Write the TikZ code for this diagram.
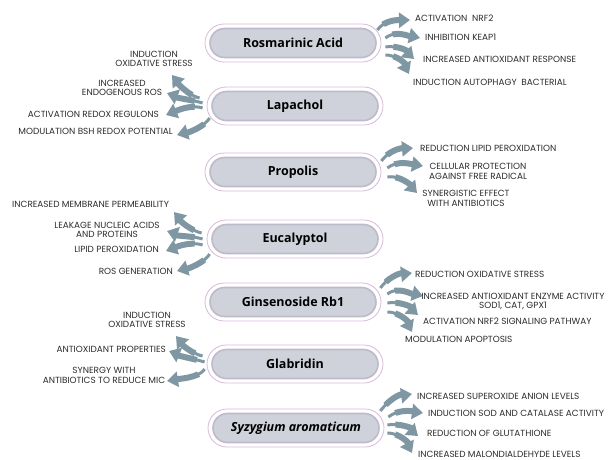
\documentclass[tikz,border=0pt]{standalone}
\usepackage{fontspec}
\setmainfont{Poppins}
\newfontfamily\ttlfont{Open Sans}
\newfontfamily\labfont{Poppins}
\usetikzlibrary{arrows.meta,shapes.misc,bending}
\definecolor{arrowc}{HTML}{7F97A2}
\definecolor{txtc}{HTML}{2B2B2B}
\definecolor{pillb}{HTML}{D8B9D9}
\definecolor{pillf}{HTML}{CFD2DA}
\definecolor{pillr}{HTML}{BDBACB}
\tikzset{
  pillout/.style={rounded rectangle, fill=white, draw=pillb, line width=0.8pt, minimum width=176pt, minimum height=38pt, inner sep=0pt},
  pillin/.style={rounded rectangle, fill=pillf, draw=pillr, line width=1.6pt, minimum width=166pt, minimum height=29pt, inner sep=0pt, font=\ttlfont\bfseries\fontsize{12.5}{14}\selectfont, text=black},
  arr/.style={draw=arrowc, line width=3pt, -{Triangle[width=15pt,length=11pt]},
    preaction={draw=arrowc, line width=6pt, shorten >=9pt, dash pattern={on 0pt off 8pt on 300pt}, -}},
  lab/.style={font=\labfont\fontsize{8.9}{9.5}\selectfont, text=txtc, inner sep=0pt},
  labc/.style={lab, align=center},
}
\begin{document}
\begin{tikzpicture}[x=1pt,y=-1pt]
\useasboundingbox (0,0) rectangle (609,459);

% ---------- Rosmarinic Acid
\node[pillout] (ra) at (293,43) {};
\node[pillin] (rat) at (ra) {Rosmarinic Acid};
\coordinate (ra1) at (410,20);
\coordinate (ra2) at (420,38);
\coordinate (ra3) at (414,59);
\coordinate (ra4) at (409,74);
\draw[arr] ([shift={(-4,-13)}]ra.east) .. controls +(7,-10) and +(-13,0) .. (ra1);
\draw[arr] ([shift={(4,-5)}]ra.east) .. controls +(10,-8) and +(-12,-2) .. (ra2);
\draw[arr] ([shift={(4,4)}]ra.east) .. controls +(12,-2) and +(-6,-8) .. (ra3);
\draw[arr] ([shift={(4,12)}]ra.east) .. controls +(12,0) and +(-3,-10) .. (ra4);
\node[lab, anchor=west] (rat1) at (415,18) {ACTIVATION\ \ NRF2};
\node[lab, anchor=west] (rat2) at (425,37) {INHIBITION KEAP1};
\node[lab, anchor=west] (rat3) at (423,59) {INCREASED ANTIOXIDANT RESPONSE};
\node[lab, anchor=west] (rat4) at (413,82) {INDUCTION AUTOPHAGY\ \ BACTERIAL};

% ---------- Lapachol
\node[pillout] (la) at (295,106) {};
\node[pillin] (lat) at (la) {Lapachol};
\coordinate (la1) at (172,75);
\coordinate (la2) at (167,93);
\coordinate (la3) at (166,115);
\coordinate (la4) at (177,135);
\draw[arr] ([shift={(-7,-8)}]la.west) .. controls +(-10,-2) and +(6,9) .. (la1);
\draw[arr] ([shift={(-4,-3)}]la.west) .. controls +(-10,-3) and +(10,5) .. (la2);
\draw[arr] ([shift={(-4,2)}]la.west) .. controls +(-12,-4) and +(10,-4) .. (la3);
\draw[arr] ([shift={(3,12)}]la.west) .. controls +(-5,9) and +(10,-2) .. (la4);
\node[labc] (lat1) at (154,59) {INDUCTION\\OXIDATIVE STRESS};
\node[labc] (lat2) at (122,88) {INCREASED\\ENDOGENOUS ROS};
\node[lab, anchor=east] (lat3) at (159,114) {ACTIVATION REDOX REGULONS};
\node[lab, anchor=east] (lat4) at (173,131) {MODULATION BSH REDOX POTENTIAL};

% ---------- Propolis
\node[pillout] (pr) at (293,172) {};
\node[pillin] (prt) at (pr) {Propolis};
\coordinate (pr1) at (413,148);
\coordinate (pr2) at (423,166);
\coordinate (pr3) at (417,193);
\draw[arr] ([shift={(0,-11)}]pr.east) .. controls +(7,-10) and +(-13,0) .. (pr1);
\draw[arr] ([shift={(6,-4)}]pr.east) .. controls +(10,-8) and +(-12,-2) .. (pr2);
\draw[arr] ([shift={(6,5)}]pr.east) .. controls +(12,-2) and +(-6,-8) .. (pr3);
\node[lab, anchor=west] (prt1) at (420,148) {REDUCTION LIPID PEROXIDATION};
\node[labc] (prt2) at (478,171.5) {CELLULAR PROTECTION\\AGAINST FREE RADICAL};
\node[labc] (prt3) at (466,198.5) {SYNERGISTIC EFFECT\\WITH ANTIBIOTICS};

% ---------- Eucalyptol
\node[pillout] (eu) at (295,239) {};
\node[pillin] (eut) at (eu) {Eucalyptol};
\coordinate (eu1) at (174,212);
\coordinate (eu2) at (167,231);
\coordinate (eu3) at (166,251);
\coordinate (eu4) at (177,271);
\draw[arr] ([shift={(-5,-6)}]eu.west) .. controls +(-10,-2) and +(6,9) .. (eu1);
\draw[arr] ([shift={(-4,0)}]eu.west) .. controls +(-10,-3) and +(10,5) .. (eu2);
\draw[arr] ([shift={(-4,6)}]eu.west) .. controls +(-12,-4) and +(10,-4) .. (eu3);
\draw[arr] ([shift={(3,15)}]eu.west) .. controls +(-5,9) and +(10,-2) .. (eu4);
\node[lab, anchor=west] (eut1) at (12,204) {INCREASED MEMBRANE PERMEABILITY};
\node[labc] (eut2) at (107,230) {LEAKAGE NUCLEIC ACIDS\\AND PROTEINS};
\node[lab, anchor=east] (eut3) at (159,249) {LIPID PEROXIDATION};
\node[lab, anchor=east] (eut4) at (173,271) {ROS GENERATION};

% ---------- Ginsenoside Rb1
\node[pillout] (gi) at (293,302) {};
\node[pillin] (git) at (gi) {Ginsenoside Rb1};
\coordinate (gi1) at (412,273);
\coordinate (gi2) at (423,296);
\coordinate (gi3) at (418,315);
\coordinate (gi4) at (412,332);
\draw[arr] ([shift={(-1,-14)}]gi.east) .. controls +(7,-10) and +(-13,0) .. (gi1);
\draw[arr] ([shift={(6,-8)}]gi.east) .. controls +(10,-8) and +(-12,-2) .. (gi2);
\draw[arr] ([shift={(6,1)}]gi.east) .. controls +(12,-2) and +(-6,-8) .. (gi3);
\draw[arr] ([shift={(6,10)}]gi.east) .. controls +(12,0) and +(-3,-10) .. (gi4);
\node[lab, anchor=west] (git1) at (415,274) {REDUCTION OXIDATIVE STRESS};
\node[labc] (git2) at (513,301.5) {INCREASED ANTIOXIDANT ENZYME ACTIVITY\\SOD1, CAT, GPX1};
\node[lab, anchor=west] (git3) at (423,321) {ACTIVATION NRF2 SIGNALING PATHWAY};
\node[lab, anchor=west] (git4) at (405,339) {MODULATION APOPTOSIS};

% ---------- Glabridin
\node[pillout] (gl) at (295,364) {};
\node[pillin] (glt) at (gl) {Glabridin};
\coordinate (gl1) at (176,336);
\coordinate (gl2) at (169,351);
\coordinate (gl3) at (167,381);
\draw[arr] ([shift={(-4,-8)}]gl.west) .. controls +(-10,-2) and +(6,9) .. (gl1);
\draw[arr] ([shift={(-2,-2)}]gl.west) .. controls +(-10,-3) and +(10,5) .. (gl2);
\draw[arr] ([shift={(-2,5)}]gl.west) .. controls +(-5,9) and +(10,-2) .. (gl3);
\node[labc] (glt1) at (147,320) {INDUCTION\\OXIDATIVE STRESS};
\node[lab, anchor=east] (glt2) at (166,349) {ANTIOXIDANT PROPERTIES};
\node[labc] (glt3) at (104,375.5) {SYNERGY WITH\\ANTIBIOTICS TO REDUCE MIC};

% ---------- Syzygium aromaticum
\node[pillout] (sy) at (296,428) {};
\node[pillin, font=\ttlfont\bfseries\itshape\fontsize{12.5}{14}\selectfont] (syt) at (sy) {Syzygium aromaticum};
\coordinate (sy1) at (412,394);
\coordinate (sy2) at (423,413);
\coordinate (sy3) at (418,436);
\coordinate (sy4) at (412,453);
\draw[arr] ([shift={(-4,-17)}]sy.east) .. controls +(7,-10) and +(-13,0) .. (sy1);
\draw[arr] ([shift={(4,-11)}]sy.east) .. controls +(10,-8) and +(-12,-2) .. (sy2);
\draw[arr] ([shift={(3,-3)}]sy.east) .. controls +(12,-2) and +(-6,-8) .. (sy3);
\draw[arr] ([shift={(3,5)}]sy.east) .. controls +(12,0) and +(-3,-10) .. (sy4);
\node[lab, anchor=west] (syt1) at (417,396) {INCREASED SUPEROXIDE ANION LEVELS};
\node[lab, anchor=west] (syt2) at (428,413) {INDUCTION SOD AND CATALASE ACTIVITY};
\node[lab, anchor=west] (syt3) at (427,433) {REDUCTION OF GLUTATHIONE};
\node[lab, anchor=west] (syt4) at (418,454) {INCREASED MALONDIALDEHYDE LEVELS};
\end{tikzpicture}
\end{document}
